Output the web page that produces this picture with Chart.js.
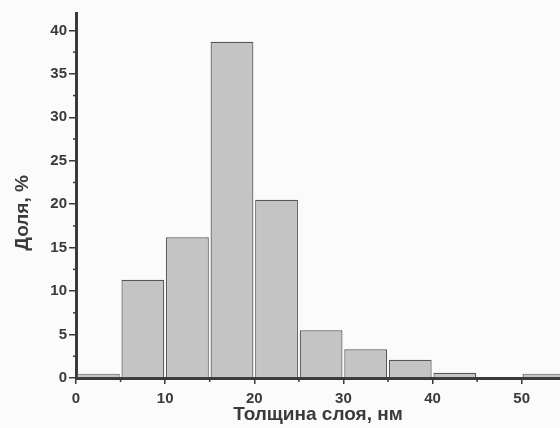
<!DOCTYPE html>
<html>
<head>
<meta charset="utf-8">
<script src="https://cdn.jsdelivr.net/npm/chart.js@4.4.1/dist/chart.umd.min.js"></script>
<style>
  html, body { margin: 0; padding: 0; background: #fbfbfb; }
  #wrap { width: 560px; height: 428px; }
</style>
</head>
<body>
<div id="wrap"><canvas id="c"></canvas></div>
<script>
// histogram bins (nm), width 5
const binStarts = [0, 5, 10, 15, 20, 25, 30, 35, 40, 45, 50];
const shares = [0.5, 11.3, 16.2, 38.7, 20.5, 5.5, 3.3, 2.1, 0.6, 0, 0.5];
const xTicks = [0, 10, 20, 30, 40, 50];
const yTicks = [0, 5, 10, 15, 20, 25, 30, 35, 40];
const yTitle = 'Доля, %';

const INK = '#3a3a3a';
const FONT = "'Liberation Sans', Arial, sans-serif";

// minor ticks between majors, plus the y title (sits a bit below the axis middle in the original)
const extras = {
    id: 'extras',
    afterDraw(chart) {
        const ctx = chart.ctx, x = chart.scales.x, y = chart.scales.y;
        ctx.save();
        ctx.strokeStyle = INK;
        ctx.lineWidth = 1.5;
        for (let v = 5; v < x.max; v += 10) {
            const px = x.getPixelForValue(v);
            ctx.beginPath(); ctx.moveTo(px, y.bottom); ctx.lineTo(px, y.bottom + 4); ctx.stroke();
        }
        for (let v = 2.5; v < y.max; v += 5) {
            const py = y.getPixelForValue(v);
            ctx.beginPath(); ctx.moveTo(x.left, py); ctx.lineTo(x.left - 3, py); ctx.stroke();
        }
        ctx.translate(23, y.getPixelForValue(19.0));
        ctx.rotate(-Math.PI / 2);
        ctx.fillStyle = INK;
        ctx.font = 'bold 19px ' + FONT;
        ctx.textAlign = 'center';
        ctx.textBaseline = 'middle';
        ctx.fillText(yTitle, 0, 0);
        ctx.restore();
    }
};

new Chart(document.getElementById('c'), {
    type: 'bar',
    data: {
        datasets: [{
            data: binStarts.map((b, i) => ({ x: b + 2.5, y: shares[i] })),
            backgroundColor: '#c4c4c4',
            borderColor: '#555555',
            borderWidth: 1.2,
            barPercentage: 0.96,
            categoryPercentage: 1
        }]
    },
    options: {
        responsive: true, maintainAspectRatio: false,
        animation: false,
        layout: { padding: { top: 13, right: 0, left: 0, bottom: 0 } },
        plugins: { legend: { display: false }, tooltip: { enabled: false } },
        scales: {
            x: {
                type: 'linear', min: 0, max: 54.3, offset: false,
                afterBuildTicks: s => { s.ticks = xTicks.map(v => ({ value: v })); },
                afterFit: s => { s.height = 50; },
                ticks: { color: INK, font: { family: FONT, size: 15, weight: 'bold' }, padding: 6, maxRotation: 0 },
                grid: { display: true, offset: false, drawOnChartArea: false, drawTicks: true, tickLength: 6, color: INK, lineWidth: 1.5 },
                border: { display: true, color: INK, width: 3 },
                title: { display: true, text: 'Толщина слоя, нм', color: INK,
                         font: { family: FONT, size: 19, weight: 'bold' }, padding: { top: 0, bottom: 2 } }
            },
            y: {
                min: 0, max: 42,
                afterBuildTicks: s => { s.ticks = yTicks.map(v => ({ value: v })); },
                afterFit: s => { s.width = 76; },
                ticks: { color: INK, font: { family: FONT, size: 15, weight: 'bold' }, padding: 2 },
                grid: { display: true, offset: false, drawOnChartArea: false, drawTicks: true, tickLength: 7, color: INK, lineWidth: 1.5 },
                border: { display: true, color: INK, width: 3 }
            }
        }
    },
    plugins: [extras]
});
</script>
</body>
</html>
